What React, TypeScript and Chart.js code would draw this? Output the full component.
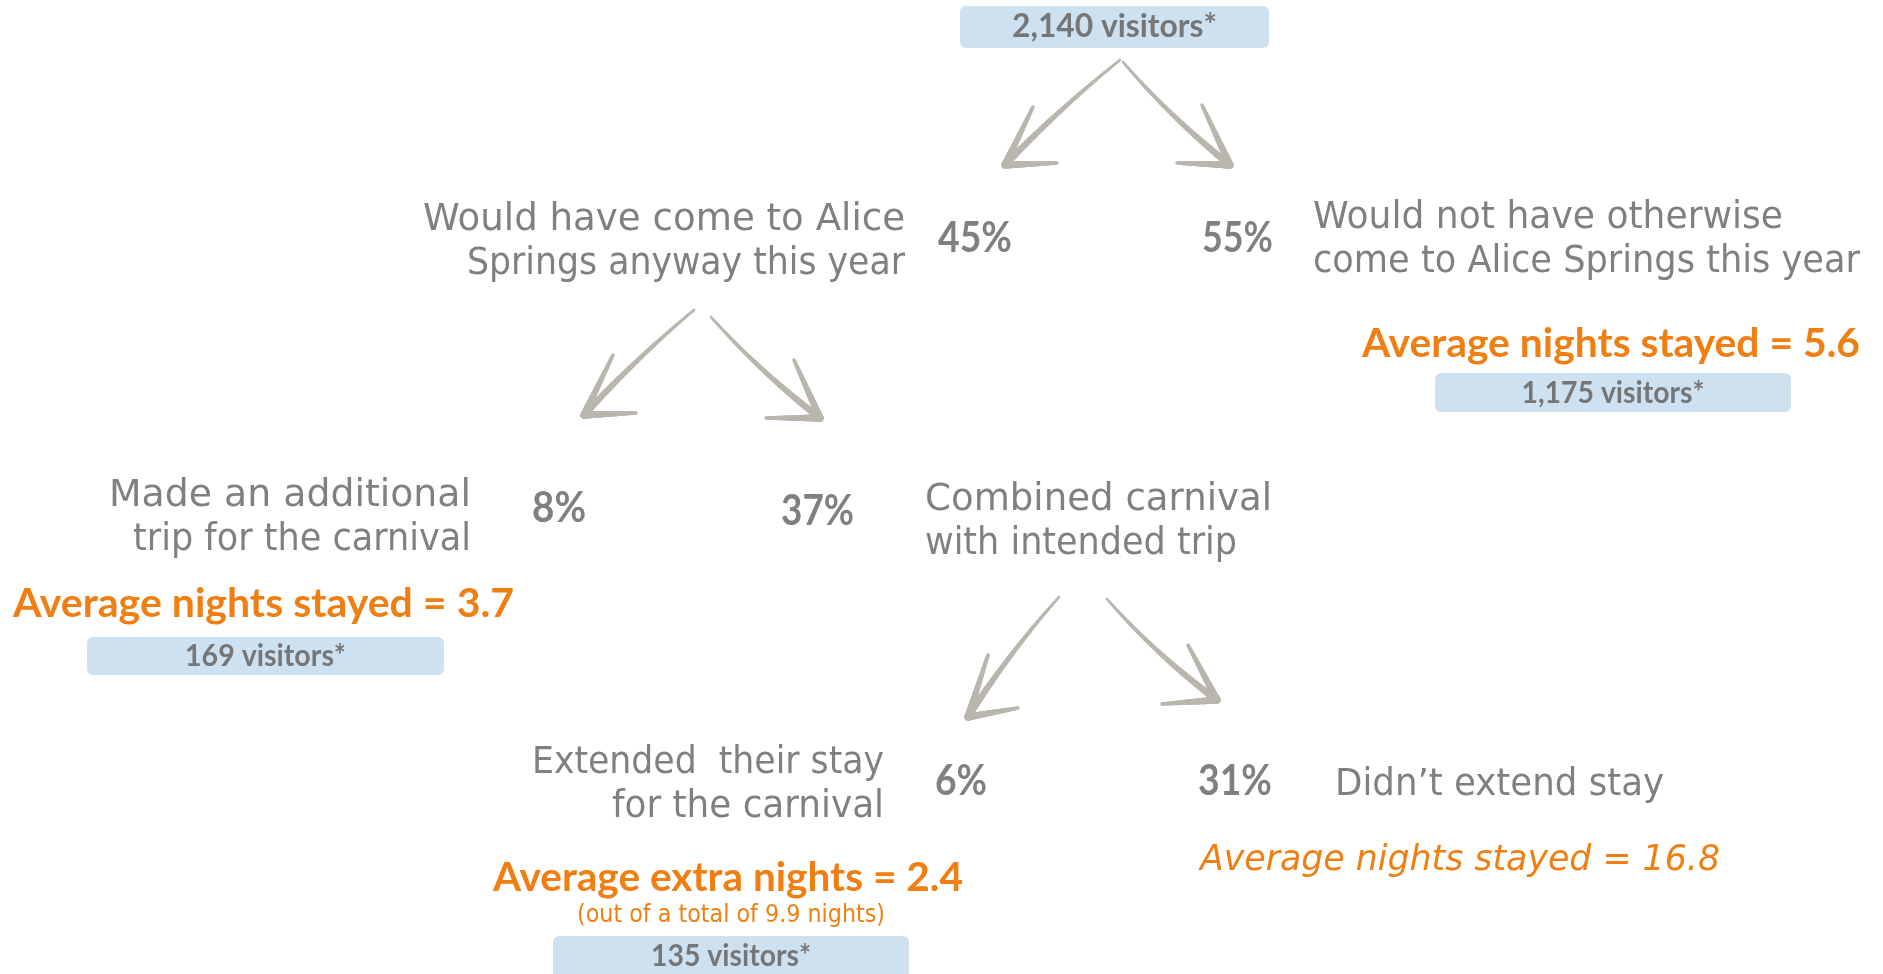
import React, { useEffect, useRef } from "react";
import { Chart, registerables } from "chart.js";

Chart.register(...registerables);

const CANVAS_W = 1883;
const CANVAS_H = 974;

// ---------------- data ----------------
const totalVisitors = 2140;
const branchLabels: string[][] = [
  ["Would have come to Alice", "Springs anyway this year"],
  ["Would not have otherwise", "come to Alice Springs this year"],
  ["Made an additional", "trip for the carnival"],
  ["Combined carnival", "with intended trip"],
  ["Extended  their stay", "for the carnival"],
  ["Didn\u2019t extend stay"],
];
const branchShares = [45, 55, 8, 37, 6, 31];
const branchVisitors = [1175, 169, 135];
const avgLabels = [
  "Average nights stayed",
  "Average nights stayed",
  "Average extra nights",
  "Average nights stayed",
];
const avgValues = [5.6, 3.7, 2.4, 16.8];
const totalNightsNote = 9.9;

// ---------------- layout (diagram coordinates) ----------------
type Align = "left" | "right" | "center";
const LABEL_POS: { x: number; y: number[]; align: Align; w: number[] }[] = [
  { x: 905, y: [230, 274], align: "right", w: [482, 438] },
  { x: 1313, y: [228, 272], align: "left", w: [470, 547] },
  { x: 471, y: [506, 550], align: "right", w: [362, 338] },
  { x: 925, y: [510, 554], align: "left", w: [347, 312] },
  { x: 884, y: [773, 817], align: "right", w: [352, 272] },
  { x: 1335, y: [795], align: "left", w: [329] },
];
const SHARE_POS = [
  { x: 938, y: 252, w: 74 },
  { x: 1202, y: 252, w: 71 },
  { x: 532, y: 522, w: 54 },
  { x: 781, y: 525, w: 73 },
  { x: 935, y: 795, w: 52 },
  { x: 1198, y: 795, w: 74 },
];
const AVG_POS: { x: number; y: number; align: Align; w: number; italic: boolean }[] = [
  { x: 1860, y: 357, align: "right", w: 498, italic: false },
  { x: 13, y: 617, align: "left", w: 501, italic: false },
  { x: 493, y: 891, align: "left", w: 470, italic: false },
  { x: 1200, y: 870, align: "left", w: 520, italic: true },
];
const NOTE_POS = { x: 731, y: 922, w: 308 };
const BOX_POS = [
  { x0: 960, y0: 6, x1: 1269, y1: 48, ty: 37, w: 205 },
  { x0: 1435, y0: 373, x1: 1791, y1: 412, ty: 403, w: 183 },
  { x0: 87, y0: 637, x1: 444, y1: 675, ty: 666, w: 161 },
  { x0: 553, y0: 936, x1: 909, y1: 984, ty: 966, w: 160 },
];
const ARROWS = [
  { from: [1120, 60], to: [1005, 165], arms: [[1033, 107], [1057, 163]], bend: 5 },
  { from: [1123, 62], to: [1230, 165], arms: [[1202, 105], [1177, 163]], bend: 7 },
  { from: [694, 310], to: [584, 415], arms: [[613, 355], [636, 413]], bend: 5 },
  { from: [711, 317], to: [820, 418], arms: [[794, 360], [766, 418]], bend: 7 },
  { from: [1059, 597], to: [968, 717], arms: [[988, 655], [1018, 708]], bend: 6 },
  { from: [1107, 599], to: [1217, 700], arms: [[1188, 645], [1162, 704]], bend: 8 },
];

// ---------------- styles ----------------
const GRAY = "#808080";
const BOX_TEXT = "#767676";
const ORANGE = "#ef7f12";
const BOX_FILL = "#cde1f1";
const ARROW = "#bab6ae";
const REG_FONT = '"DejaVu Sans", "Noto Sans", sans-serif';
const BOLD_FONT = 'Lato, "Noto Sans", sans-serif';

function fmt(n: number) {
  return n.toLocaleString("en-US");
}

function fitText(
  ctx: CanvasRenderingContext2D,
  text: string,
  x: number,
  y: number,
  align: Align,
  font: string,
  color: string,
  width?: number
) {
  ctx.save();
  ctx.font = font;
  ctx.fillStyle = color;
  ctx.textAlign = align;
  ctx.textBaseline = "alphabetic";
  let sx = 1;
  if (width) {
    const m = ctx.measureText(text).width;
    if (m > 0) sx = Math.max(0.7, Math.min(1.4, width / m));
  }
  ctx.translate(x, y);
  ctx.scale(sx, 1);
  ctx.fillText(text, 0, 0);
  ctx.restore();
}

function taperedQuad(
  ctx: CanvasRenderingContext2D,
  p0: number[],
  c: number[],
  p1: number[],
  w0: number,
  w1: number
) {
  const N = 40;
  let px = p0[0];
  let py = p0[1];
  for (let i = 1; i <= N; i++) {
    const t = i / N;
    const a = (1 - t) * (1 - t);
    const b = 2 * (1 - t) * t;
    const d = t * t;
    const x = a * p0[0] + b * c[0] + d * p1[0];
    const y = a * p0[1] + b * c[1] + d * p1[1];
    ctx.lineWidth = w0 + (w1 - w0) * t;
    ctx.beginPath();
    ctx.moveTo(px, py);
    ctx.lineTo(x, y);
    ctx.stroke();
    px = x;
    py = y;
  }
}

const diagramPlugin = {
  id: "diagram",
  afterDraw(chart: any) {
    const ctx: CanvasRenderingContext2D = chart.ctx;
    const sx = chart.scales.x;
    const sy = chart.scales.y;
    const X = (v: number) => sx.getPixelForValue(v);
    const Y = (v: number) => sy.getPixelForValue(v);

    ctx.save();
    // arrows
    ctx.strokeStyle = ARROW;
    ctx.lineCap = "round";
    ctx.lineJoin = "round";
    ARROWS.forEach((a) => {
      const p0 = [X(a.from[0]), Y(a.from[1])];
      const p1 = [X(a.to[0]), Y(a.to[1])];
      const dx = p1[0] - p0[0];
      const dy = p1[1] - p0[1];
      const len = Math.hypot(dx, dy);
      const nx = -dy / len;
      const ny = dx / len;
      const c = [(p0[0] + p1[0]) / 2 + nx * a.bend, (p0[1] + p1[1]) / 2 + ny * a.bend];
      taperedQuad(ctx, p0, c, p1, 2.5, 7);
      a.arms.forEach((e) => {
        const pe = [X(e[0]), Y(e[1])];
        const cm = [(p1[0] + pe[0]) / 2, (p1[1] + pe[1]) / 2];
        taperedQuad(ctx, p1, cm, pe, 7.5, 3.5);
      });
    });

    // boxes
    const boxTexts = [totalVisitors, ...branchVisitors];
    BOX_POS.forEach((b, i) => {
      const x0 = X(b.x0), x1 = X(b.x1), y0 = Y(b.y0), y1 = Y(b.y1);
      ctx.fillStyle = BOX_FILL;
      ctx.beginPath();
      if ((ctx as any).roundRect) (ctx as any).roundRect(x0, y0, x1 - x0, y1 - y0, 6);
      else ctx.rect(x0, y0, x1 - x0, y1 - y0);
      ctx.fill();
      fitText(ctx, `${fmt(boxTexts[i])} visitors*`, (x0 + x1) / 2, Y(b.ty), "center",
        `bold ${i === 0 ? 33 : 30}px ${BOLD_FONT}`, BOX_TEXT, b.w);
    });

    // branch labels
    LABEL_POS.forEach((p, i) => {
      branchLabels[i].forEach((line, j) => {
        fitText(ctx, line, X(p.x), Y(p.y[j]), p.align, `37px ${REG_FONT}`, GRAY, p.w[j]);
      });
    });

    // shares (positions from dataset elements)
    const meta = chart.getDatasetMeta(0);
    meta.data.forEach((el: any, i: number) => {
      fitText(ctx, `${branchShares[i]}%`, el.x, el.y, "left", `bold 42px ${BOLD_FONT}`, GRAY, SHARE_POS[i].w);
    });

    // averages
    AVG_POS.forEach((p, i) => {
      const font = p.italic ? `italic 36px ${REG_FONT}` : `bold 40px ${BOLD_FONT}`;
      fitText(ctx, `${avgLabels[i]} = ${avgValues[i]}`, X(p.x), Y(p.y), p.align, font, ORANGE, p.w);
    });
    fitText(ctx, `(out of a total of ${totalNightsNote} nights)`, X(NOTE_POS.x), Y(NOTE_POS.y), "center",
      `24px ${REG_FONT}`, ORANGE, NOTE_POS.w);
    ctx.restore();
  },
};

export default function App() {
  const ref = useRef<HTMLCanvasElement | null>(null);
  useEffect(() => {
    if (!ref.current) return;
    const chart = new Chart(ref.current, {
      type: "scatter",
      data: {
        datasets: [
          {
            label: "Share of visitors",
            data: SHARE_POS.map((p) => ({ x: p.x, y: p.y })),
            pointRadius: 0,
            pointHoverRadius: 0,
          },
        ],
      },
      options: {
        responsive: false,
        maintainAspectRatio: false,
        devicePixelRatio: 1,
        animation: false,
        events: [],
        layout: { padding: 0 },
        plugins: { legend: { display: false }, tooltip: { enabled: false }, title: { display: false } },
        scales: {
          x: { type: "linear", min: 0, max: CANVAS_W, display: false },
          y: { type: "linear", min: 0, max: CANVAS_H, reverse: true, display: false },
        },
      },
      plugins: [diagramPlugin],
    });
    return () => chart.destroy();
  }, []);
  return (
    <div style={{ position: "fixed", left: 0, top: 0, width: CANVAS_W, height: CANVAS_H, background: "#fff", overflow: "hidden" }}>
      <canvas ref={ref} width={CANVAS_W} height={CANVAS_H} style={{ width: CANVAS_W, height: CANVAS_H, display: "block" }} />
    </div>
  );
}
